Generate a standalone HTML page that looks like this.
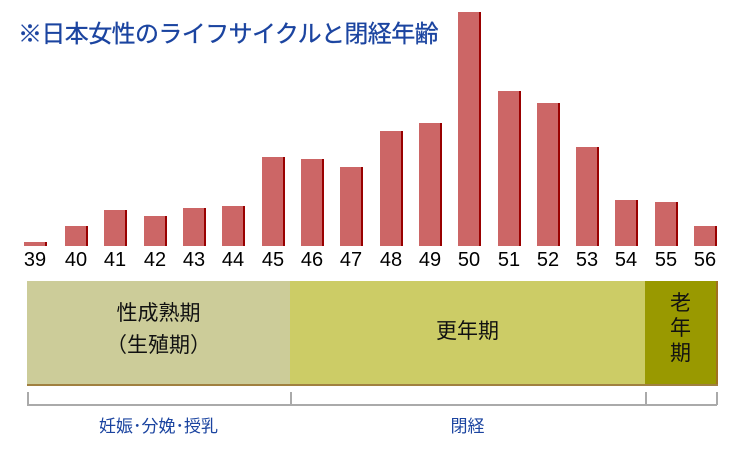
<!DOCTYPE html><html><head><meta charset="utf-8"><style>
body{margin:0;width:740px;height:457px;background:#fff;position:relative;overflow:hidden;font-family:"Liberation Sans","Noto Sans CJK JP",sans-serif}
.a{position:absolute}
.b{position:absolute;background:#cc6666;border-right:2px solid #990000;box-sizing:border-box;width:23px}
.l{position:absolute;top:249px;width:40px;text-align:center;font-size:20px;color:#000}
</style></head><body>
<div id="bars"></div>
<div class="a" style="left:18px;top:14px;font-size:24px;color:#1b44a0;letter-spacing:-0.6px;white-space:nowrap;z-index:2;-webkit-text-stroke:0.3px #1b44a0">※日本女性のライフサイクルと閉経年齢</div>
<div class="a" style="left:27px;top:281px;width:263px;height:104px;background:#cccc99"></div>
<div class="a" style="left:290px;top:281px;width:355px;height:104px;background:#cccc66"></div>
<div class="a" style="left:645px;top:281px;width:71px;height:104px;background:#999900;border-right:2px solid #a07020"></div>
<div class="a" style="left:27px;top:384px;width:691px;height:2px;background:#a08040"></div>
<div class="a" style="left:27px;top:298px;width:263px;text-align:center;font-size:21px;line-height:32px;color:#111">性成熟期<br>（生殖期）</div>
<div class="a" style="left:290px;top:315px;width:355px;text-align:center;font-size:21px;color:#111">更年期</div>
<div class="a" style="left:645px;top:291px;width:71px;text-align:center;font-size:21px;line-height:25px;color:#111">老<br>年<br>期</div>
<div class="a" style="left:27px;top:404px;width:690px;height:2px;background:#aaa"></div>
<div class="a" style="left:27px;top:392px;width:2px;height:13px;background:#aaa"></div>
<div class="a" style="left:290px;top:392px;width:2px;height:13px;background:#aaa"></div>
<div class="a" style="left:645px;top:392px;width:2px;height:13px;background:#aaa"></div>
<div class="a" style="left:716px;top:392px;width:2px;height:13px;background:#aaa"></div>
<div class="a" style="left:27px;top:412px;width:263px;text-align:center;font-size:17px;color:#1b44a0">妊娠･分娩･授乳</div>
<div class="a" style="left:290px;top:412px;width:355px;text-align:center;font-size:17px;color:#1b44a0">閉経</div>
<script>
var L=[24,65,104,144,183,222,262,301,340,380,419,458,498,537,576,615,655,694];
var T=[242,226,210,216,208,206,157,159,167,131,123,12,91,103,147,200,202,226];
var h='';for(var i=0;i<18;i++){h+='<div class="b" style="left:'+L[i]+'px;top:'+T[i]+'px;height:'+(246-T[i])+'px"></div><div class="l" style="left:'+(L[i]-9)+'px">'+(39+i)+'</div>';}
document.getElementById('bars').innerHTML=h;
</script>
</body></html>
